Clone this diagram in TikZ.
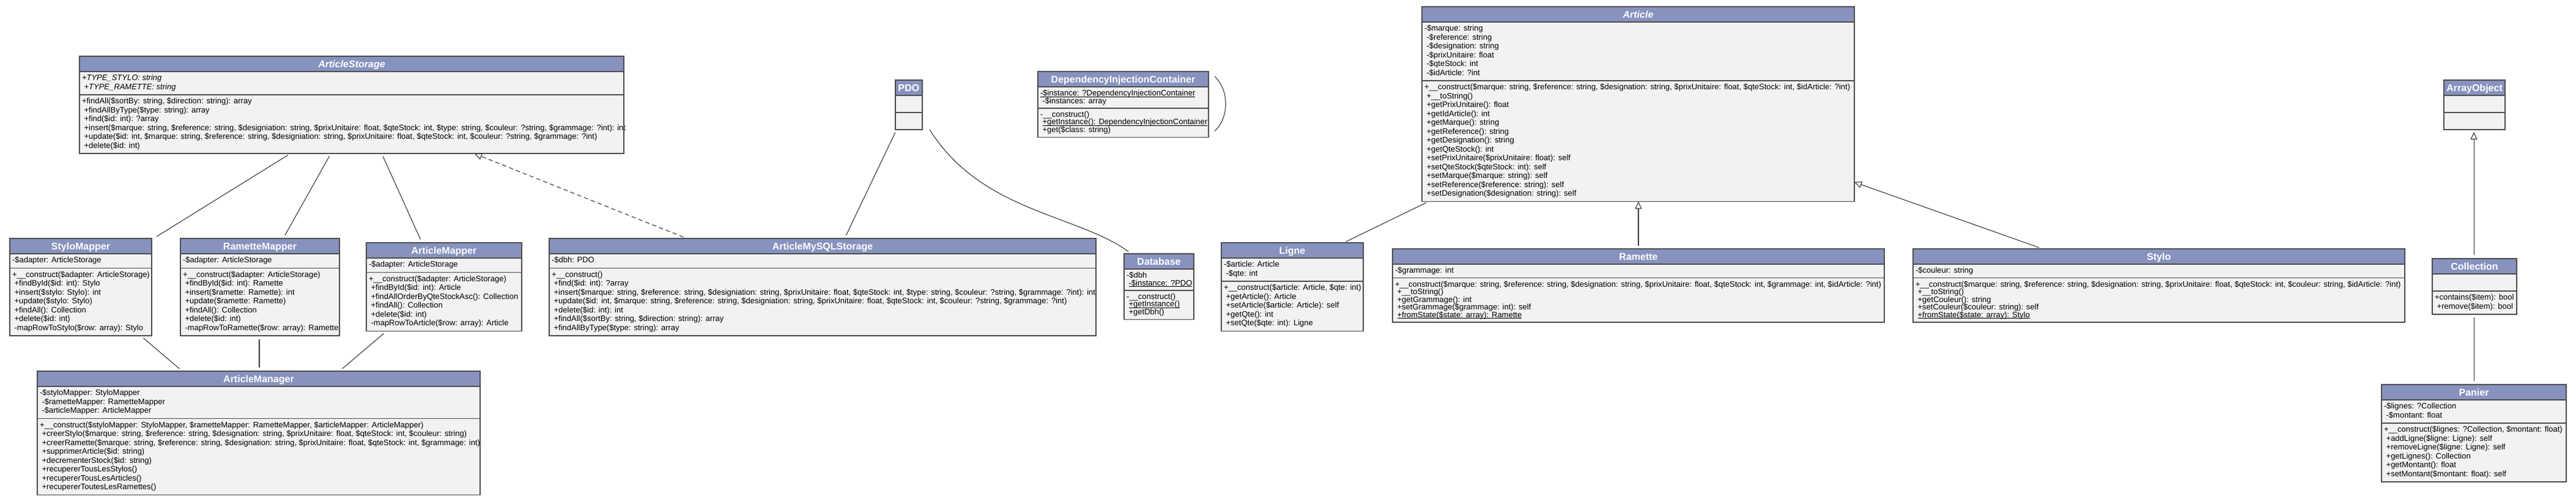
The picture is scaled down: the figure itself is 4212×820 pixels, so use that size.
\documentclass[tikz,border=0pt]{standalone}
\usepackage{fontspec}
\setmainfont{Liberation Sans}
\usetikzlibrary{arrows.meta}
\definecolor{hdrblue}{HTML}{8792BE}
\definecolor{bodygray}{HTML}{F2F2F2}
\definecolor{edgegray}{HTML}{4D4D4D}
\definecolor{wiregray}{HTML}{383838}
\newcommand\ulstat[1]{\setbox0=\hbox{#1}\rlap{\rule[-1.6pt]{\wd0}{0.6pt}}\box0}
\def\curL{14.5}
\def\curP{9}
\newcommand\umlstrut{\vrule height 0.7\dimexpr\curL pt\relax depth 0.3\dimexpr\curL pt\relax width 0pt\relax}
\newcommand\umllines[1]{\vbox{\fontsize{13}{\curL}\selectfont
  \baselineskip=\curL pt\relax\lineskiplimit=-30pt\relax\lineskip=0pt\relax
  \def\\{\egroup\hbox\bgroup\umlstrut}%
  \hbox\bgroup\umlstrut #1\egroup}}
\newcommand\hdrfont{\fontsize{16}{18}\selectfont\bfseries}
\tikzset{
  classbody/.style={fill=bodygray, draw=none, inner sep=0pt, outer sep=0pt},
  classedge/.style={draw=edgegray, line width=1.4pt},
  hdrtext/.style={text=white, font=\hdrfont, inner sep=0pt, outer sep=0pt, minimum height=25pt, text height=11.5pt, text depth=0pt},
  assoc/.style={draw=wiregray, line width=1.1pt},
  inherit/.style={assoc, -{Triangle[open, length=12pt, width=11pt]}},
  realize/.style={inherit, dash pattern=on 7pt off 5pt},
}
% name, x, y, width, title, n attrs, attrs, n methods, methods
\newcommand\umlclass[9]{%
  \pgfmathsetmacro\umlhA{(#6==0) ? 28 : (#6*\curL+\curP)}%
  \pgfmathsetmacro\umlhM{(#8==0) ? 28 : (#8*\curL+\curP)}%
  \pgfmathsetmacro\umlhT{25+\umlhA+\umlhM}%
  \pgfmathsetmacro\umlyB{-25-\umlhA}%
  \pgfmathsetmacro\umltA{-25-\curP/2}%
  \pgfmathsetmacro\umltB{-25-\umlhA-\curP/2}%
  \node[classbody, minimum width=#4pt, minimum height=\umlhT pt, anchor=north west] (#1) at (#2,#3) {};
  \fill[hdrblue] (#1.north west) rectangle ([yshift=-25pt]#1.north east);
  \draw[classedge] ([yshift=-25pt]#1.north west) -- ([yshift=-25pt]#1.north east);
  \draw[classedge] ([yshift=\umlyB pt]#1.north west) -- ([yshift=\umlyB pt]#1.north east);
  \node[hdrtext, minimum width=#4pt, anchor=north west] at (#1.north west) {#5};
  \ifnum#6>0 \node[anchor=north west, inner sep=0pt, outer sep=0pt] at ([xshift=4pt,yshift=\umltA pt]#1.north west) {\umllines{#7}};\fi
  \ifnum#8>0 \node[anchor=north west, inner sep=0pt, outer sep=0pt] at ([xshift=4pt,yshift=\umltB pt]#1.north west) {\umllines{#9}};\fi
  \draw[classedge] (#1.north west) rectangle (#1.south east);
}
\begin{document}
\begin{tikzpicture}[x=1pt,y=-1pt]
\fill[white] (0,0) rectangle (4212,820);
\useasboundingbox (0,0) rectangle (4212,820);

\umlclass{ArticleStorage}{130}{92}{890}{\textit{ArticleStorage}}{2}{%
\textit{+TYPE\_STYLO: string}\\
\textit{+TYPE\_RAMETTE: string}}{6}{%
+findAll(\$sortBy: string, \$direction: string): array\\
+findAllByType(\$type: string): array\\
+find(\$id: int): ?array\\
+insert(\$marque: string, \$reference: string, \$designiation: string, \$prixUnitaire: float, \$qteStock: int, \$type: string, \$couleur: ?string, \$grammage: ?int): int\\
+update(\$id: int, \$marque: string, \$reference: string, \$designiation: string, \$prixUnitaire: float, \$qteStock: int, \$couleur: ?string, \$grammage: ?int)\\
+delete(\$id: int)}

\umlclass{PDO}{1464}{131}{44}{PDO}{0}{}{0}{}

\def\curL{12.5}\def\curP{10}
\umlclass{DIC}{1697}{117}{279}{DependencyInjectionContainer}{2}{%
\ulstat{-\$instance: ?DependencyInjectionContainer}\\
-\$instances: array}{3}{%
-\_\_construct()\\
\ulstat{+getInstance(): DependencyInjectionContainer}\\
+get(\$class: string)}
\def\curL{14.5}\def\curP{9}

\umlclass{Article}{2325}{11}{707}{\textit{Article}}{6}{%
-\$marque: string\\
-\$reference: string\\
-\$designation: string\\
-\$prixUnitaire: float\\
-\$qteStock: int\\
-\$idArticle: ?int}{13}{%
+\_\_construct(\$marque: string, \$reference: string, \$designation: string, \$prixUnitaire: float, \$qteStock: int, \$idArticle: ?int)\\
+\_\_toString()\\
+getPrixUnitaire(): float\\
+getIdArticle(): int\\
+getMarque(): string\\
+getReference(): string\\
+getDesignation(): string\\
+getQteStock(): int\\
+setPrixUnitaire(\$prixUnitaire: float): self\\
+setQteStock(\$qteStock: int): self\\
+setMarque(\$marque: string): self\\
+setReference(\$reference: string): self\\
+setDesignation(\$designation: string): self}

\umlclass{ArrayObject}{3996}{131}{100}{ArrayObject}{0}{}{0}{}

\umlclass{StyloMapper}{16}{390}{232}{StyloMapper}{1}{%
-\$adapter: ArticleStorage}{7}{%
+\_\_construct(\$adapter: ArticleStorage)\\
+findById(\$id: int): Stylo\\
+insert(\$stylo: Stylo): int\\
+update(\$stylo: Stylo)\\
+findAll(): Collection\\
+delete(\$id: int)\\
-mapRowToStylo(\$row: array): Stylo}

\umlclass{RametteMapper}{295}{390}{260}{RametteMapper}{1}{%
-\$adapter: ArticleStorage}{7}{%
+\_\_construct(\$adapter: ArticleStorage)\\
+findById(\$id: int): Ramette\\
+insert(\$ramette: Ramette): int\\
+update(\$ramette: Ramette)\\
+findAll(): Collection\\
+delete(\$id: int)\\
-mapRowToRamette(\$row: array): Ramette}

\umlclass{ArticleMapper}{599}{397}{254}{ArticleMapper}{1}{%
-\$adapter: ArticleStorage}{6}{%
+\_\_construct(\$adapter: ArticleStorage)\\
+findById(\$id: int): Article\\
+findAllOrderByQteStockAsc(): Collection\\
+findAll(): Collection\\
+delete(\$id: int)\\
-mapRowToArticle(\$row: array): Article}

\umlclass{ArticleMySQLStorage}{898}{390}{894}{ArticleMySQLStorage}{1}{%
-\$dbh: PDO}{7}{%
+\_\_construct()\\
+find(\$id: int): ?array\\
+insert(\$marque: string, \$reference: string, \$designiation: string, \$prixUnitaire: float, \$qteStock: int, \$type: string, \$couleur: ?string, \$grammage: ?int): int\\
+update(\$id: int, \$marque: string, \$reference: string, \$designiation: string, \$prixUnitaire: float, \$qteStock: int, \$couleur: ?string, \$grammage: ?int)\\
+delete(\$id: int): int\\
+findAll(\$sortBy: string, \$direction: string): array\\
+findAllByType(\$type: string): array}

\def\curL{12.5}\def\curP{10}
\umlclass{Database}{1838}{415}{114}{Database}{2}{%
-\$dbh\\
\ulstat{-\$instance: ?PDO}}{3}{%
-\_\_construct()\\
\ulstat{+getInstance()}\\
+getDbh()}
\def\curL{14.5}\def\curP{9}

\umlclass{Ligne}{1997}{397}{232}{Ligne}{2}{%
-\$article: Article\\
-\$qte: int}{5}{%
+\_\_construct(\$article: Article, \$qte: int)\\
+getArticle(): Article\\
+setArticle(\$article: Article): self\\
+getQte(): int\\
+setQte(\$qte: int): Ligne}

\def\curL{12.5}\def\curP{10}
\umlclass{Ramette}{2277}{407}{804}{Ramette}{1}{%
-\$grammage: int}{5}{%
+\_\_construct(\$marque: string, \$reference: string, \$designation: string, \$prixUnitaire: float, \$qteStock: int, \$grammage: int, \$idArticle: ?int)\\
+\_\_toString()\\
+getGrammage(): int\\
+setGrammage(\$grammage: int): self\\
\ulstat{+fromState(\$state: array): Ramette}}

\umlclass{Stylo}{3128}{407}{804}{Stylo}{1}{%
-\$couleur: string}{5}{%
+\_\_construct(\$marque: string, \$reference: string, \$designation: string, \$prixUnitaire: float, \$qteStock: int, \$couleur: string, \$idArticle: ?int)\\
+\_\_toString()\\
+getCouleur(): string\\
+setCouleur(\$couleur: string): self\\
\ulstat{+fromState(\$state: array): Stylo}}
\def\curL{14.5}\def\curP{9}

\umlclass{Collection}{3977}{423}{138}{Collection}{0}{}{2}{%
+contains(\$item): bool\\
+remove(\$item): bool}

\umlclass{ArticleManager}{61}{607}{724}{ArticleManager}{3}{%
-\$styloMapper: StyloMapper\\
-\$rametteMapper: RametteMapper\\
-\$articleMapper: ArticleMapper}{8}{%
+\_\_construct(\$styloMapper: StyloMapper, \$rametteMapper: RametteMapper, \$articleMapper: ArticleMapper)\\
+creerStylo(\$marque: string, \$reference: string, \$designation: string, \$prixUnitaire: float, \$qteStock: int, \$couleur: string)\\
+creerRamette(\$marque: string, \$reference: string, \$designation: string, \$prixUnitaire: float, \$qteStock: int, \$grammage: int)\\
+supprimerArticle(\$id: string)\\
+decrementerStock(\$id: string)\\
+recupererTousLesStylos()\\
+recupererTousLesArticles()\\
+recupererToutesLesRamettes()}

\umlclass{Panier}{3894}{629}{302}{Panier}{2}{%
-\$lignes: ?Collection\\
-\$montant: float}{6}{%
+\_\_construct(\$lignes: ?Collection, \$montant: float)\\
+addLigne(\$ligne: Ligne): self\\
+removeLigne(\$ligne: Ligne): self\\
+getLignes(): Collection\\
+getMontant(): float\\
+setMontant(\$montant: float): self}

% connectors
\draw[assoc, shorten <=5pt, shorten >=6pt] ([xshift=345pt]ArticleStorage.south west) -- ([xshift=235pt]StyloMapper.north west);
\draw[assoc, shorten <=5pt, shorten >=6pt] ([xshift=411pt]ArticleStorage.south west) -- ([xshift=168pt]RametteMapper.north west);
\draw[assoc, shorten <=5pt, shorten >=6pt] ([xshift=494pt]ArticleStorage.south west) -- ([xshift=91pt]ArticleMapper.north west);
\draw[realize, shorten <=6pt, shorten >=1pt] ([xshift=225pt]ArticleMySQLStorage.north west) -- ([xshift=645pt]ArticleStorage.south west);

\draw[assoc, shorten <=6pt, shorten >=6pt] ([xshift=214pt]StyloMapper.south west) -- ([xshift=237pt]ArticleManager.north west);
\draw[assoc, shorten <=6pt, shorten >=6pt] ([xshift=129pt]RametteMapper.south west) -- ([xshift=363pt]ArticleManager.north west);
\draw[assoc, shorten <=6pt, shorten >=6pt] ([xshift=33pt]ArticleMapper.south west) -- ([xshift=494pt]ArticleManager.north west);

\draw[assoc, shorten <=5pt, shorten >=6pt] ([xshift=2pt]PDO.south west) -- ([xshift=483pt]ArticleMySQLStorage.north west);
\draw[assoc, shorten >=6pt] ([xshift=12pt]PDO.south east) .. controls ([xshift=97pt,yshift=-135pt]PDO.south east) and ([xshift=-78pt,yshift=65pt]Database.north west) .. ([xshift=12pt]Database.north west);
\draw[assoc] ([xshift=10pt,yshift=-8pt]DIC.north east) .. controls ([xshift=34pt,yshift=-30pt]DIC.north east) and ([xshift=34pt,yshift=32pt]DIC.south east) .. ([xshift=10pt,yshift=10pt]DIC.south east);

\draw[assoc, shorten <=4pt, shorten >=4pt] ([xshift=200pt]Ligne.north west) -- ([xshift=11pt]Article.south west);
\draw[inherit, shorten <=5pt] ([xshift=402pt]Ramette.north west) -- ([xshift=354pt]Article.south west);
\draw[inherit, shorten <=6pt] ([xshift=212pt]Stylo.north west) -- ([yshift=-287pt]Article.north east);

\draw[inherit, shorten <=6pt, shorten >=4pt] ([xshift=68pt]Collection.north west) -- ([xshift=49pt]ArrayObject.south west);
\draw[assoc, shorten <=5pt, shorten >=6pt] ([xshift=68pt]Collection.south west) -- ([xshift=151pt]Panier.north west);
\end{tikzpicture}
\end{document}
